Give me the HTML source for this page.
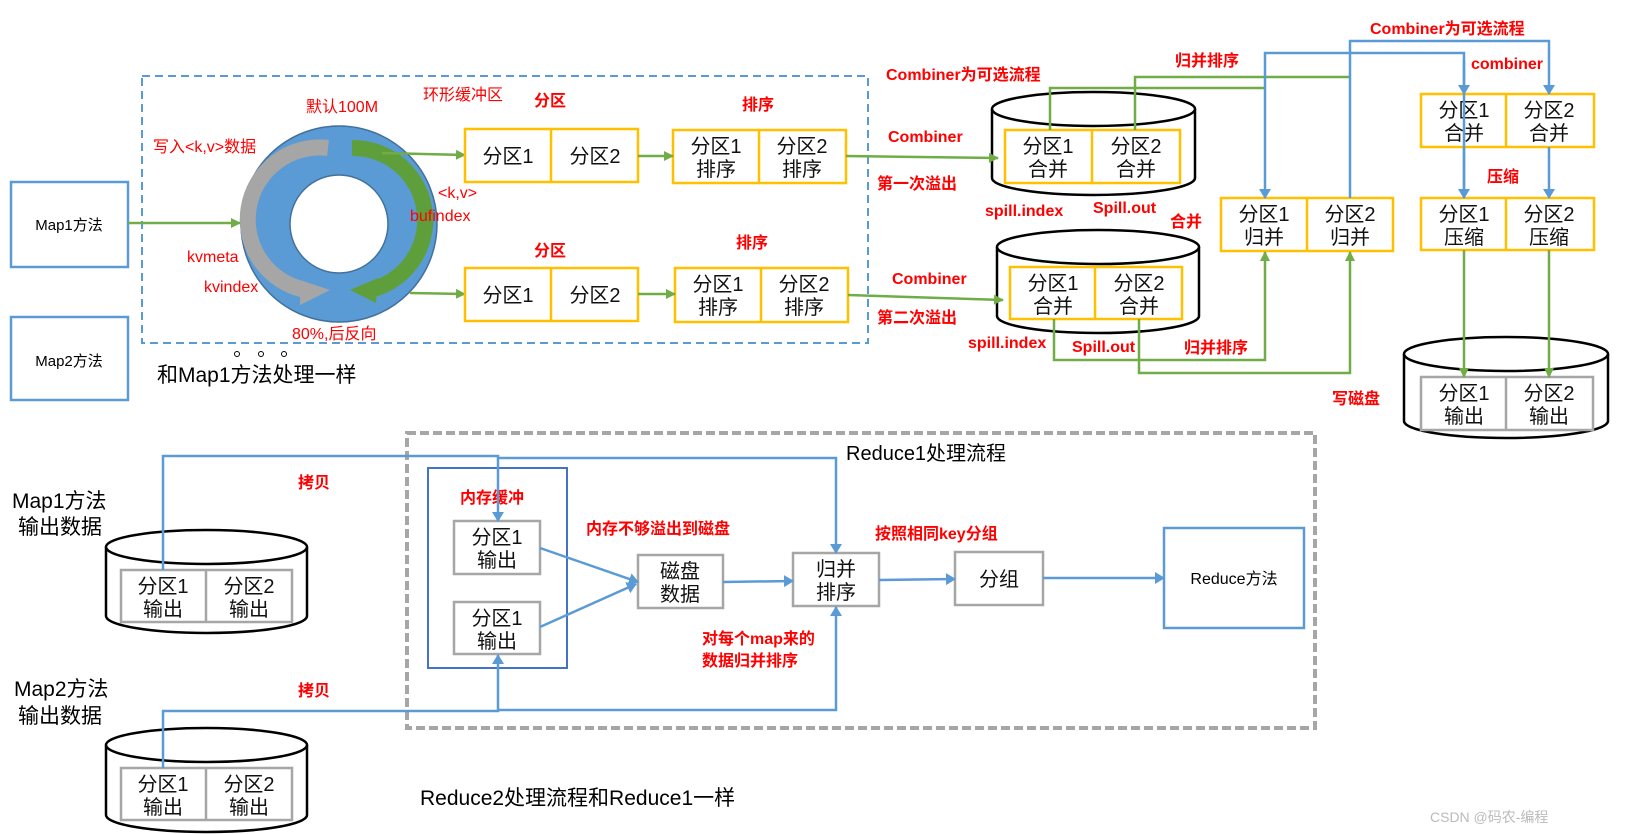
<!DOCTYPE html>
<html><head><meta charset="utf-8"><style>
html,body{margin:0;padding:0;background:#fff;}
svg{display:block;}
text{font-family:"Liberation Sans","Noto Sans CJK SC",sans-serif;}
.r{fill:#ff0000;font-weight:bold;font-size:16px;}
.rn{fill:#ff0000;font-size:16px;}
.b{font-size:20px;fill:#111;text-anchor:middle;}
.y{fill:#fff;stroke:#ffc000;stroke-width:2.5;}
.g{fill:#fff;stroke:#a6a6a6;stroke-width:2.5;}
.gl{stroke:#70ad47;stroke-width:2.5;fill:none;}
.bl{stroke:#5b9bd5;stroke-width:2.5;fill:none;}
</style></head><body>
<svg width="1627" height="834" viewBox="0 0 1627 834" xmlns="http://www.w3.org/2000/svg">
<defs>
<marker id="ag" markerWidth="10" markerHeight="10" refX="9" refY="5" orient="auto" markerUnits="userSpaceOnUse"><path d="M0,0 L10,5 L0,10z" fill="#70ad47"/></marker>
<marker id="ab" markerWidth="10" markerHeight="12" refX="9" refY="6" orient="auto" markerUnits="userSpaceOnUse"><path d="M0,0 L10,6 L0,12z" fill="#5b9bd5"/></marker>
</defs>

<!-- Map boxes -->
<rect x="11" y="182" width="117" height="85" fill="#fff" stroke="#5b9bd5" stroke-width="2.5"/>
<text x="69" y="230" font-size="15" text-anchor="middle">Map1方法</text>
<rect x="11" y="317" width="117" height="83" fill="#fff" stroke="#5b9bd5" stroke-width="2.5"/>
<text x="69" y="366" font-size="15" text-anchor="middle">Map2方法</text>

<!-- dashed blue box -->
<rect x="142" y="76" width="726" height="267" fill="none" stroke="#5b9bd5" stroke-width="2" stroke-dasharray="8,5"/>

<!-- ring -->
<circle cx="339" cy="224" r="98" fill="#5b9bd5" stroke="#41719c" stroke-width="1.5"/>
<circle cx="339" cy="224" r="49" fill="#fff" stroke="#41719c" stroke-width="1.5"/>
<path d="M328,148 A72,72 0 0 0 305,290" stroke="#a6a6a6" stroke-width="16" fill="none"/>
<path d="M300,280 L330,290 L300,305z" fill="#a6a6a6"/>
<path d="M352,148 A72,72 0 0 1 370,290" stroke="#5f9f3b" stroke-width="16" fill="none"/>
<path d="M378,278 L350,290 L376,303z" fill="#5f9f3b"/>

<text x="306" y="112" class="rn">默认100M</text>
<text x="423" y="100" class="rn">环形缓冲区</text>
<text x="153" y="152" class="rn">写入&lt;k,v&gt;数据</text>
<text x="438" y="198" class="rn" font-size="15">&lt;k,v&gt;</text>
<text x="410" y="221" class="rn" font-size="15">bufindex</text>
<text x="187" y="262" class="rn" font-size="15">kvmeta</text>
<text x="204" y="292" class="rn" font-size="15">kvindex</text>
<text x="292" y="339" class="rn">80%,后反向</text>
<circle cx="237" cy="354" r="2.5" fill="none" stroke="#000"/>
<circle cx="261" cy="354" r="2.5" fill="none" stroke="#000"/>
<circle cx="284" cy="354" r="2.5" fill="none" stroke="#000"/>
<text x="157" y="382" font-size="21">和Map1方法处理一样</text>

<line x1="128" y1="223" x2="240" y2="223" class="gl" marker-end="url(#ag)"/>
<line x1="382" y1="153" x2="465" y2="155" class="gl" marker-end="url(#ag)"/>
<line x1="410" y1="293" x2="465" y2="294" class="gl" marker-end="url(#ag)"/>

<text x="534" y="106" class="r">分区</text>
<text x="742" y="110" class="r">排序</text>
<text x="534" y="256" class="r">分区</text>
<text x="736" y="248" class="r">排序</text>

<rect x="465" y="129" width="173" height="53" class="y"/><line x1="551" y1="129" x2="551" y2="182" stroke="#ffc000" stroke-width="2.5"/>
<text x="508" y="163" class="b">分区1</text><text x="595" y="163" class="b">分区2</text>
<rect x="673" y="130" width="173" height="53" class="y"/><line x1="759" y1="130" x2="759" y2="183" stroke="#ffc000" stroke-width="2.5"/>
<text x="716" y="153" class="b">分区1</text><text x="716" y="176" class="b">排序</text>
<text x="802" y="153" class="b">分区2</text><text x="802" y="176" class="b">排序</text>

<rect x="465" y="268" width="173" height="53" class="y"/><line x1="551" y1="268" x2="551" y2="321" stroke="#ffc000" stroke-width="2.5"/>
<text x="508" y="302" class="b">分区1</text><text x="595" y="302" class="b">分区2</text>
<rect x="675" y="268" width="173" height="54" class="y"/><line x1="761" y1="268" x2="761" y2="322" stroke="#ffc000" stroke-width="2.5"/>
<text x="718" y="291" class="b">分区1</text><text x="718" y="314" class="b">排序</text>
<text x="804" y="291" class="b">分区2</text><text x="804" y="314" class="b">排序</text>

<line x1="638" y1="156" x2="673" y2="156" class="gl" marker-end="url(#ag)"/>
<line x1="638" y1="294" x2="675" y2="294" class="gl" marker-end="url(#ag)"/>

<!-- cylinders -->
<path d="M992,109 L992,178 A101.5,17 0 0 0 1195,178 L1195,109" fill="#fff" stroke="#000" stroke-width="2.5"/>
<ellipse cx="1093.5" cy="109" rx="101.5" ry="17" fill="#fff" stroke="#000" stroke-width="2.5"/>
<rect x="1005" y="130" width="175" height="53" class="y"/><line x1="1092" y1="130" x2="1092" y2="183" stroke="#ffc000" stroke-width="2.5"/>
<text x="1048" y="153" class="b">分区1</text><text x="1048" y="176" class="b">合并</text>
<text x="1136" y="153" class="b">分区2</text><text x="1136" y="176" class="b">合并</text>

<path d="M997,247 L997,316 A101,17 0 0 0 1199,316 L1199,247" fill="#fff" stroke="#000" stroke-width="2.5"/>
<ellipse cx="1098" cy="247" rx="101" ry="17" fill="#fff" stroke="#000" stroke-width="2.5"/>
<rect x="1010" y="267" width="172" height="52" class="y"/><line x1="1095" y1="267" x2="1095" y2="319" stroke="#ffc000" stroke-width="2.5"/>
<text x="1053" y="290" class="b">分区1</text><text x="1053" y="313" class="b">合并</text>
<text x="1139" y="290" class="b">分区2</text><text x="1139" y="313" class="b">合并</text>

<line x1="846" y1="156" x2="998" y2="158" class="gl" marker-end="url(#ag)"/>
<line x1="848" y1="295" x2="1003" y2="300" class="gl" marker-end="url(#ag)"/>

<text x="886" y="80" class="r">Combiner为可选流程</text>
<text x="888" y="142" class="r">Combiner</text>
<text x="877" y="189" class="r">第一次溢出</text>
<text x="892" y="284" class="r">Combiner</text>
<text x="877" y="323" class="r">第二次溢出</text>
<text x="985" y="216" class="r">spill.index</text>
<text x="1093" y="213" class="r">Spill.out</text>
<text x="1170" y="227" class="r">合并</text>
<text x="968" y="348" class="r">spill.index</text>
<text x="1072" y="352" class="r">Spill.out</text>
<text x="1184" y="353" class="r">归并排序</text>
<text x="1175" y="66" class="r">归并排序</text>
<text x="1370" y="34" class="r">Combiner为可选流程</text>
<text x="1471" y="69" class="r">combiner</text>
<text x="1487" y="182" class="r">压缩</text>
<text x="1332" y="404" class="r">写磁盘</text>

<!-- merge boxes -->
<rect x="1221" y="198" width="172" height="53" class="y"/><line x1="1307" y1="198" x2="1307" y2="251" stroke="#ffc000" stroke-width="2.5"/>
<text x="1264" y="221" class="b">分区1</text><text x="1264" y="244" class="b">归并</text>
<text x="1350" y="221" class="b">分区2</text><text x="1350" y="244" class="b">归并</text>

<rect x="1421" y="94" width="173" height="53" class="y"/><line x1="1506" y1="94" x2="1506" y2="147" stroke="#ffc000" stroke-width="2.5"/>
<text x="1464" y="117" class="b">分区1</text><text x="1464" y="140" class="b">合并</text>
<text x="1549" y="117" class="b">分区2</text><text x="1549" y="140" class="b">合并</text>

<rect x="1421" y="198" width="173" height="52" class="y"/><line x1="1506" y1="198" x2="1506" y2="250" stroke="#ffc000" stroke-width="2.5"/>
<text x="1464" y="221" class="b">分区1</text><text x="1464" y="244" class="b">压缩</text>
<text x="1549" y="221" class="b">分区2</text><text x="1549" y="244" class="b">压缩</text>

<path d="M1404,354 L1404,421 A102,17 0 0 0 1608,421 L1608,354" fill="#fff" stroke="#000" stroke-width="2.5"/>
<ellipse cx="1506" cy="354" rx="102" ry="17" fill="#fff" stroke="#000" stroke-width="2.5"/>
<rect x="1421" y="377" width="172" height="53" class="g"/><line x1="1506" y1="377" x2="1506" y2="430" stroke="#a6a6a6" stroke-width="2.5"/>
<text x="1464" y="400" class="b">分区1</text><text x="1464" y="423" class="b">输出</text>
<text x="1549" y="400" class="b">分区2</text><text x="1549" y="423" class="b">输出</text>

<!-- connectors top right -->
<path d="M1050,130 L1050,88 L1265,88" class="gl"/>
<path d="M1135,130 L1135,77 L1350,77" class="gl"/>
<path d="M1464,198 L1464,53 L1265,53 L1265,198" class="bl" marker-end="url(#ab)"/>
<line x1="1464" y1="60" x2="1464" y2="94" class="bl" marker-end="url(#ab)"/>
<path d="M1350,198 L1350,41 L1549,41 L1549,94" class="bl" marker-end="url(#ab)"/>
<path d="M1054,319 L1054,360 L1265,360 L1265,252" class="gl" marker-end="url(#ag)"/>
<path d="M1139,319 L1139,373 L1350,373 L1350,252" class="gl" marker-end="url(#ag)"/>
<line x1="1464" y1="147" x2="1464" y2="198" class="bl" marker-end="url(#ab)"/>
<line x1="1549" y1="147" x2="1549" y2="198" class="bl" marker-end="url(#ab)"/>
<line x1="1464" y1="250" x2="1464" y2="377" class="gl" marker-end="url(#ag)"/>
<line x1="1549" y1="250" x2="1549" y2="377" class="gl" marker-end="url(#ag)"/>

<!-- reduce section -->
<rect x="407" y="433" width="908" height="295" fill="none" stroke="#a6a6a6" stroke-width="4" stroke-dasharray="9,4"/>
<text x="846" y="460" font-size="20">Reduce1处理流程</text>
<rect x="428" y="468" width="139" height="200" fill="#fff" stroke="#4472c4" stroke-width="2"/>
<text x="460" y="503" class="r">内存缓冲</text>
<rect x="454" y="521" width="86" height="53" class="g"/>
<text x="497" y="544" class="b">分区1</text><text x="497" y="567" class="b">输出</text>
<rect x="454" y="602" width="86" height="52" class="g"/>
<text x="497" y="625" class="b">分区1</text><text x="497" y="648" class="b">输出</text>
<rect x="638" y="555" width="85" height="53" class="g"/>
<text x="680" y="578" class="b">磁盘</text><text x="680" y="601" class="b">数据</text>
<rect x="793" y="553" width="86" height="53" class="g"/>
<text x="836" y="576" class="b">归并</text><text x="836" y="599" class="b">排序</text>
<rect x="955" y="552" width="88" height="53" class="g"/>
<text x="999" y="586" class="b">分组</text>
<rect x="1164" y="528" width="140" height="100" fill="#fff" stroke="#5b9bd5" stroke-width="2.5"/>
<text x="1234" y="584" font-size="16" text-anchor="middle">Reduce方法</text>

<text x="586" y="534" class="r">内存不够溢出到磁盘</text>
<text x="875" y="539" class="r">按照相同key分组</text>
<text x="702" y="644" class="r">对每个map来的</text>
<text x="702" y="666" class="r">数据归并排序</text>
<text x="298" y="488" class="r">拷贝</text>
<text x="298" y="696" class="r">拷贝</text>

<line x1="540" y1="548" x2="638" y2="582" class="bl" marker-end="url(#ab)"/>
<line x1="540" y1="627" x2="636" y2="584" class="bl" marker-end="url(#ab)"/>
<line x1="723" y1="582" x2="793" y2="581" class="bl" marker-end="url(#ab)"/>
<line x1="879" y1="580" x2="955" y2="579" class="bl" marker-end="url(#ab)"/>
<line x1="1043" y1="578" x2="1164" y2="578" class="bl" marker-end="url(#ab)"/>

<text x="12" y="508" font-size="21">Map1方法</text>
<text x="18" y="534" font-size="21">输出数据</text>
<text x="14" y="696" font-size="21">Map2方法</text>
<text x="18" y="723" font-size="21">输出数据</text>

<path d="M106,547 L106,616 A100.5,17 0 0 0 307,616 L307,547" fill="#fff" stroke="#000" stroke-width="2.5"/>
<ellipse cx="206.5" cy="547" rx="100.5" ry="17" fill="#fff" stroke="#000" stroke-width="2.5"/>
<rect x="121" y="570" width="171" height="52" class="g"/><line x1="206" y1="570" x2="206" y2="622" stroke="#a6a6a6" stroke-width="2.5"/>
<text x="163" y="593" class="b">分区1</text><text x="163" y="616" class="b">输出</text>
<text x="249" y="593" class="b">分区2</text><text x="249" y="616" class="b">输出</text>

<path d="M106,745 L106,815 A100.5,17 0 0 0 307,815 L307,745" fill="#fff" stroke="#000" stroke-width="2.5"/>
<ellipse cx="206.5" cy="745" rx="100.5" ry="17" fill="#fff" stroke="#000" stroke-width="2.5"/>
<rect x="121" y="768" width="171" height="52" class="g"/><line x1="206" y1="768" x2="206" y2="820" stroke="#a6a6a6" stroke-width="2.5"/>
<text x="163" y="791" class="b">分区1</text><text x="163" y="814" class="b">输出</text>
<text x="249" y="791" class="b">分区2</text><text x="249" y="814" class="b">输出</text>

<path d="M163,570 L163,456 L498,456 L498,521" class="bl" marker-end="url(#ab)"/>
<path d="M498,458 L836,458 L836,553" class="bl" marker-end="url(#ab)"/>
<path d="M163,768 L163,711 L498,711 L498,655" class="bl" marker-end="url(#ab)"/>
<path d="M498,710 L836,710 L836,607" class="bl" marker-end="url(#ab)"/>

<text x="420" y="805" font-size="21">Reduce2处理流程和Reduce1一样</text>
<text x="1430" y="822" font-size="14" fill="#bbb">CSDN @码农-编程</text>
</svg>
</body></html>
